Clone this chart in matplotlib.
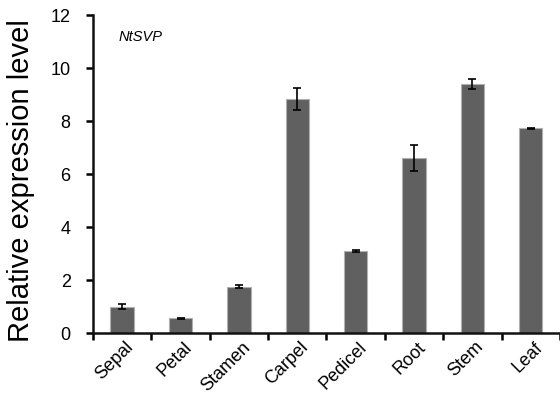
import matplotlib
matplotlib.use("Agg")
import matplotlib.pyplot as plt
import matplotlib.transforms as mtransforms
import numpy as np

categories = ["Sepal", "Petal", "Stamen", "Carpel", "Pedicel", "Root", "Stem", "Leaf"]
values = [0.99, 0.55, 1.75, 8.82, 3.10, 6.60, 9.40, 7.72]
errors = [0.10, 0.03, 0.06, 0.42, 0.05, 0.50, 0.20, 0.03]
yticks = [0, 2, 4, 6, 8, 10, 12]

plt.rcParams['font.family'] = ['Liberation Sans', 'DejaVu Sans']

fig = plt.figure(figsize=(5.6, 3.96), dpi=100)
ax = fig.add_axes([0.166, 0.159, 0.834, 0.803])

x = np.arange(len(categories))
ax.bar(x, values, width=0.4, color="#606060", edgecolor="#b0b0b0", linewidth=0.8,
       yerr=errors, error_kw=dict(ecolor="black", elinewidth=1.2, capsize=3, capthick=1.2))

ax.set_xlim(-0.5, len(categories) - 0.5)
ax.set_ylim(0, 12)
ax.set_yticks(yticks)
ax.set_yticklabels([str(t) for t in yticks], fontsize=13)
ax.tick_params(axis='y', direction='out', length=5, width=1.8, pad=11)

ax.set_xticks(x)
ax.set_xticklabels(categories, fontsize=13, rotation=45, ha='right', rotation_mode='anchor')
ax.tick_params(axis='x', which='major', length=0, pad=4)
ax.set_xticks(np.arange(len(categories) + 1) - 0.5, minor=True)
ax.tick_params(axis='x', which='minor', direction='out', length=5, width=1.8)
offset = mtransforms.ScaledTranslation(2 / 72, 0, fig.dpi_scale_trans)
for lab in ax.get_xticklabels():
    lab.set_transform(lab.get_transform() + offset)

for s in ['top', 'right']:
    ax.spines[s].set_visible(False)
for s in ['left', 'bottom']:
    ax.spines[s].set_linewidth(1.8)
    ax.spines[s].set_color("#111111")

ax.set_ylabel("Relative expression level", fontsize=21)
ax.yaxis.set_label_coords(-0.124, 0.48)
ax.text(0.054, 0.93, "NtSVP", transform=ax.transAxes, fontsize=10.5, style='italic', va='center')

fig.savefig("out.png", dpi=100)
